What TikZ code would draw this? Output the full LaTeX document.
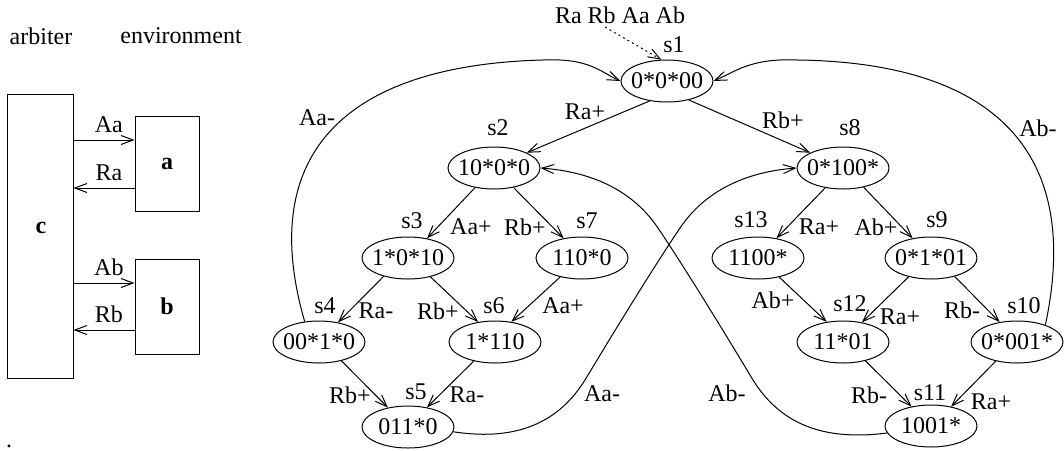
\documentclass[tikz,border=0pt]{standalone}
\usepackage{fontspec}
\setmainfont{Liberation Serif}
\usetikzlibrary{shapes.geometric,arrows.meta}

\begin{document}
\begin{tikzpicture}[x=0.5pt,y=-0.5pt,font=\fontsize{12}{14}\selectfont,
  stateell/.style={ellipse,draw,line width=0.5pt,minimum width=46pt,minimum height=21pt,inner xsep=-3pt,inner ysep=0pt},
  box/.style={draw,line width=0.5pt,inner sep=0pt},
  arr/.style={line width=0.5pt,-{Straight Barb[length=6pt,width=4.5pt]}}]
\useasboundingbox (0,0) rectangle (1064,450);

% arbiter and its environment
\node (arb) at ( 41, 36) {arbiter};
\node (env) at (181, 36) {environment};
\node (c)   at ( 40,236) [box,minimum width=33pt,minimum height=142pt] {};
\node (clab) at ( 41,228) {\textbf{c}};
\node (a)   at (167,163.5) [box,minimum width=32pt,minimum height=47.5pt] {\textbf{a}};
\node (b)   at (167,306.5) [box,minimum width=32pt,minimum height=47.5pt] {\textbf{b}};
\node (dot) at (  9,446) {.};

\draw [arr] (c.east |- 0,140) -- node [above,pos=0.58] (laa) {Aa} (a.west |- 0,140);
\draw [arr] (a.west |- 0,188) -- node [above,pos=0.42] (lra) {Ra} (c.east |- 0,188);
\draw [arr] (c.east |- 0,283) -- node [above,pos=0.58] (lab) {Ab} (b.west |- 0,283);
\draw [arr] (b.west |- 0,330) -- node [above,pos=0.42] (lrb) {Rb} (c.east |- 0,330);

% state graph
\node (s1)  at ( 667, 81) [stateell] {0*0*00};
\node (s2)  at ( 494,168) [stateell] {10*0*0};
\node (s8)  at ( 843,168) [stateell] {0*100*};
\node (s3)  at ( 408,258) [stateell] {1*0*10};
\node (s7)  at ( 582,258) [stateell] {110*0};
\node (s13) at ( 758,258) [stateell] {1100*};
\node (s9)  at ( 931,258) [stateell] {0*1*01};
\node (s4)  at ( 319,342) [stateell] {00*1*0};
\node (s6)  at ( 495,342) [stateell] {1*110};
\node (s12) at ( 843,342) [stateell] {11*01};
\node (s10) at (1017,342) [stateell] {0*001*};
\node (s5)  at ( 408,427) [stateell] {011*0};
\node (s11) at ( 931,426) [stateell] {1001*};

\node (n1)  at ( 674, 45) {s1};
\node (n2)  at ( 498,128) {s2};
\node (n8)  at ( 850,128) {s8};
\node (n3)  at ( 412,221) {s3};
\node (n7)  at ( 587,221) {s7};
\node (n13) at ( 751,220) {s13};
\node (n9)  at ( 937,220) {s9};
\node (n4)  at ( 325,306) {s4};
\node (n6)  at ( 494,306) {s6};
\node (n12) at ( 850,304) {s12};
\node (n10) at (1024,306) {s10};
\node (n5)  at ( 416,392) {s5};
\node (n11) at ( 930,393) {s11};

\node (sig) at ( 620, 15) {Ra Rb Aa Ab};
\coordinate (init) at (605,27);
\draw [arr,dash pattern=on 1pt off 1.6pt] (init) -- (s1.105);

\node (t12)   at ( 585,112) {Ra+};
\node (t18)   at ( 783,120) {Rb+};
\node (t23)   at ( 471,227) {Aa+};
\node (t27)   at ( 525,227) {Rb+};
\node (t813)  at ( 819,227) {Ra+};
\node (t89)   at ( 876,227) {Ab+};
\node (t34)   at ( 376,311) {Ra-};
\node (t36)   at ( 438,311) {Rb+};
\node (t76)   at ( 563,306) {Aa+};
\node (t1312) at ( 773,300) {Ab+};
\node (t912)  at ( 900,317) {Ra+};
\node (t910)  at ( 962,310) {Rb-};
\node (t45)   at ( 350,395) {Rb+};
\node (t65)   at ( 467,395) {Ra-};
\node (t1211) at ( 869,395) {Rb-};
\node (t1011) at ( 991,402) {Ra+};
\node (t41)   at ( 317,118) {Aa-};
\node (t101)  at (1038,128) {Ab-};
\node (t58)   at ( 602,394) {Aa-};
\node (t112)  at ( 727,393) {Ab-};

\draw [arr] (s1.229)  -- (s2.25);
\draw [arr] (s1.319)  -- (s8.155);
\draw [arr] (s2.226)  -- (s3.46);
\draw [arr] (s2.315)  -- (s7.133);
\draw [arr] (s8.228)  -- (s13.47);
\draw [arr] (s8.317)  -- (s9.133);
\draw [arr] (s3.217)  -- (s4.46);
\draw [arr] (s3.320)  -- (s6.130);
\draw [arr] (s7.221)  -- (s6.51);
\draw [arr] (s13.318) -- (s12.129);
\draw [arr] (s9.220)  -- (s12.46);
\draw [arr] (s9.322)  -- (s10.131);
\draw [arr] (s4.320)  -- (s5.136);
\draw [arr] (s6.222)  -- (s5.46);
\draw [arr] (s12.320) -- (s11.135);
\draw [arr] (s10.222) -- (s11.44);

\draw [arr] (s4.125)  .. controls ( 255,150) and ( 350, 65) .. ( 543, 60)
                      .. controls ( 590, 58) and ( 600, 72) .. (s1.west);
\draw [arr] (s10.31)  .. controls (1087,130) and ( 967, 62) .. ( 797, 60)
                      .. controls ( 750, 58) and ( 735, 72) .. (s1.east);
\draw [arr] (s5.354)  .. controls ( 520,442) and ( 560,420) .. ( 585,380)
                      .. controls ( 615,330) and ( 655,265) .. ( 680,228)
                      .. controls ( 705,191) and ( 745,172) .. (s8.west);
\draw [arr] (s11.189) .. controls ( 818,442) and ( 778,420) .. ( 753,380)
                      .. controls ( 723,330) and ( 683,265) .. ( 658,228)
                      .. controls ( 633,191) and ( 593,172) .. (s2.east);
\end{tikzpicture}
\end{document}
